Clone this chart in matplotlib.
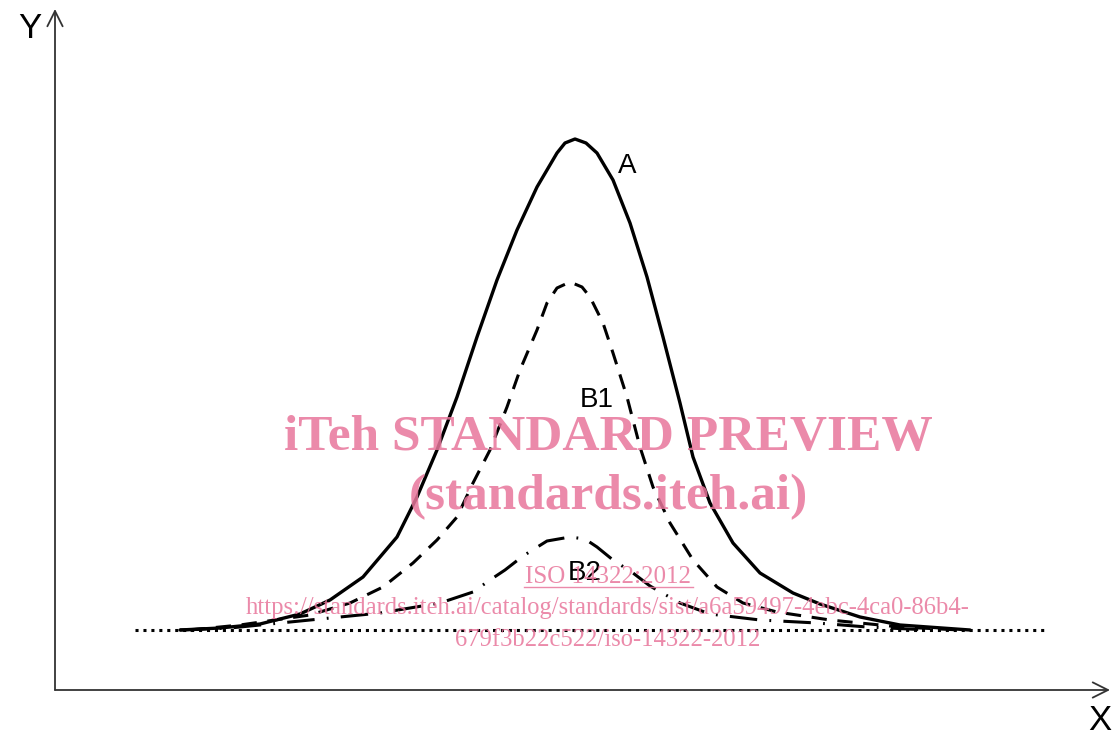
import numpy as np
import matplotlib.pyplot as plt

# curve points (x to the right of the Y axis, y above the dotted baseline)
a_x = [125, 165, 205, 245, 275, 308, 342, 362, 382, 402, 422, 442, 462, 482, 502, 510, 520, 531, 542, 558, 575, 592, 608, 625, 638, 655, 678, 705, 738, 765, 805, 845, 915]
a_y = [0, 2, 6, 16, 30, 53, 93, 133, 180, 233, 293, 350, 400, 443, 477, 487, 491, 487, 477, 450, 407, 353, 293, 227, 173, 127, 87, 57, 37, 26, 13, 5, 0]

b1_x = [135, 185, 255, 295, 328, 358, 382, 402, 418, 435, 452, 465, 482, 492, 502, 515, 527, 535, 548, 558, 572, 585, 598, 615, 638, 662, 688, 722, 775, 845, 905]
b1_y = [0, 5, 15, 27, 43, 67, 90, 113, 147, 180, 223, 260, 300, 327, 342, 348, 343, 333, 307, 277, 233, 183, 143, 107, 70, 43, 27, 18, 10, 3, 0]

b2_x = [125, 175, 275, 325, 385, 418, 435, 450, 468, 492, 515, 530, 542, 558, 578, 595, 625, 655, 705, 762, 812, 875]
b2_y = [0, 2, 12, 17, 27, 38, 50, 60, 74, 89, 93, 91, 83, 70, 57, 44, 27, 16, 10, 7, 3, 0]

base_x = [80, 990]
base_y = [0, 0]

labels = {"A": (572, 464), "B1": (542, 230), "B2": (530, 57)}

wm_color = "#e8769b"

fig = plt.figure(figsize=(11.12, 7.36), dpi=100)
ax = fig.add_axes([0, 0, 1, 1])
ax.set_xlim(-55, 1057)
ax.set_ylim(-106, 630)
ax.axis("off")

# axes with open arrow heads
arrow = dict(arrowstyle="->,head_length=1.1,head_width=0.55", color="#333333", lw=1.3, shrinkA=0, shrinkB=0)
ax.annotate("", xy=(0, 621), xytext=(0, -60), arrowprops=arrow)
ax.annotate("", xy=(1055, -60), xytext=(0, -60), arrowprops=arrow)
ax.text(-25, 602, "Y", fontsize=25, family="Liberation Sans", ha="center", va="center")
ax.text(1045, -90, "X", fontsize=25, family="Liberation Sans", ha="center", va="center")

ax.plot(base_x, base_y, color="black", lw=2.2, linestyle=(0, (1, 1.6)))
ax.plot(a_x, a_y, color="black", lw=2.4, solid_joinstyle="round", solid_capstyle="round")
ax.plot(b1_x, b1_y, color="black", lw=2.2, linestyle=(0, (5, 3.5)))
ax.plot(b2_x, b2_y, color="black", lw=2.2, linestyle=(0, (9, 4, 0.6, 4)))

for name, (x, y) in labels.items():
    ax.text(x, y, name, fontsize=20, family="Liberation Sans", ha="center", va="center")

# watermark
wm = dict(color=wm_color, alpha=0.85, family="Liberation Serif", ha="center", va="center")
ax.text(553, 192, "iTeh STANDARD PREVIEW", fontsize=37, fontweight="bold", **wm)
ax.text(553, 133, "(standards.iteh.ai)", fontsize=37, fontweight="bold", **wm)
ax.text(553, 53, "ISO 14322:2012", fontsize=18, **wm)
ax.plot([469, 638], [43, 43], color=wm_color, alpha=0.85, lw=1)
ax.text(553, 22, "https://standards.iteh.ai/catalog/standards/sist/a6a59497-4ebc-4ca0-86b4-", fontsize=17.7, **wm)
ax.text(553, -10, "679f3b22c522/iso-14322-2012", fontsize=17.7, **wm)

fig.savefig("out.png", dpi=100)
